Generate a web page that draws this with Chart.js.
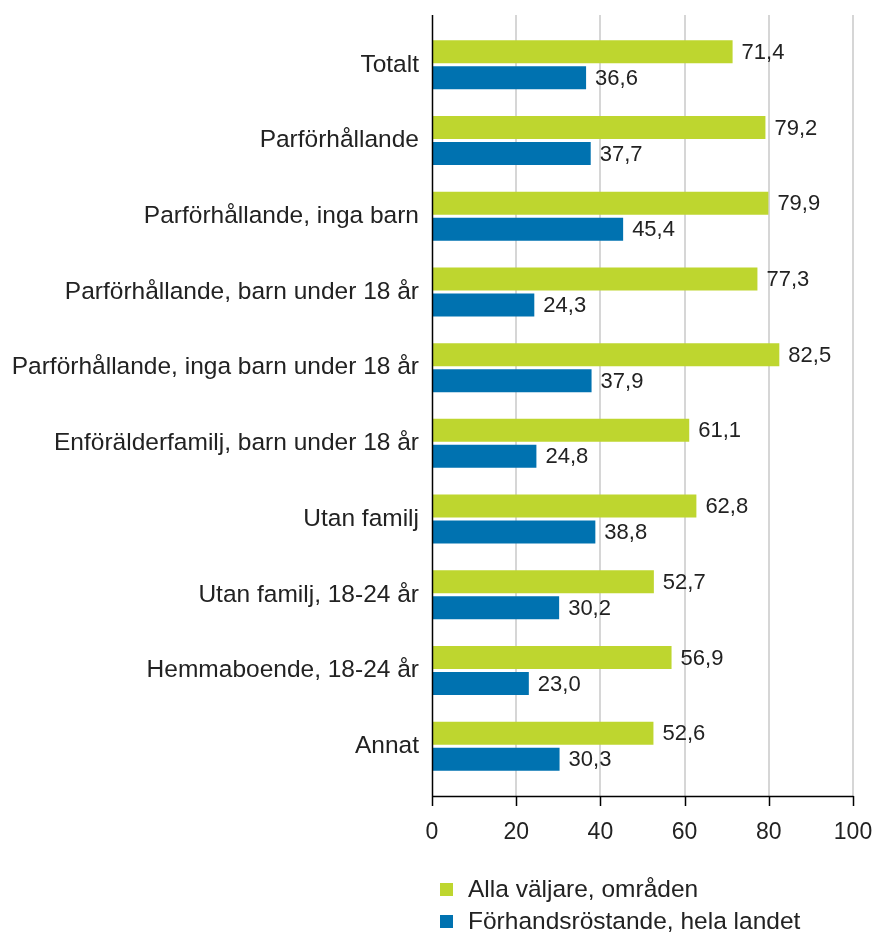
<!DOCTYPE html>
<html>
<head>
<meta charset="utf-8">
<script src="https://cdn.jsdelivr.net/npm/chart.js@4.4.1/dist/chart.umd.min.js"></script>
<style>
    body { margin: 0; background: #fff; }
    #wrap { position: relative; width: 874px; height: 932px; }
    .legend { position: absolute; left: 440px; top: 873px; font: 24.5px 'Liberation Sans', Arial, sans-serif; color: #222; }
    .legend-item { display: flex; align-items: center; height: 32px; }
    .legend-box { width: 13px; height: 13px; margin-right: 15px; }
</style>
</head>
<body>
<div id="wrap">
    <canvas id="chart" width="874" height="932"></canvas>
    <div class="legend" id="legend"></div>
</div>
<script>
const categories = [
    'Totalt',
    'Parförhållande',
    'Parförhållande, inga barn',
    'Parförhållande, barn under 18 år',
    'Parförhållande, inga barn under 18 år',
    'Enförälderfamilj, barn under 18 år',
    'Utan familj',
    'Utan familj, 18-24 år',
    'Hemmaboende, 18-24 år',
    'Annat'
];
const allaValjare = [71.4, 79.2, 79.9, 77.3, 82.5, 61.1, 62.8, 52.7, 56.9, 52.6];
const forhandsrostande = [36.6, 37.7, 45.4, 24.3, 37.9, 24.8, 38.8, 30.2, 23.0, 30.3];
const xTicks = [0, 20, 40, 60, 80, 100];
const seriesNames = ['Alla väljare, områden', 'Förhandsröstande, hela landet'];
const seriesColors = ['#BED62F', '#0072B0'];

const FONT = "'Liberation Sans', Arial, sans-serif";
const EXT = 12; // axis lines reach beyond the category band

// gridlines + axis lines, drawn from the x scale
const axisPlugin = {
    id: 'axisLines',
    beforeDatasetsDraw(chart) {
        const ctx = chart.ctx;
        const x = chart.scales.x;
        const top = chart.chartArea.top - EXT;
        const bottom = chart.chartArea.bottom + EXT;
        ctx.save();
        ctx.strokeStyle = '#d6d6d6';
        ctx.lineWidth = 2;
        xTicks.slice(1).forEach(v => {
            const px = Math.round(x.getPixelForValue(v));
            ctx.beginPath();
            ctx.moveTo(px, top);
            ctx.lineTo(px, bottom);
            ctx.stroke();
        });
        ctx.restore();
    },
    afterDatasetsDraw(chart) {
        const ctx = chart.ctx;
        const x = chart.scales.x;
        const top = chart.chartArea.top - EXT;
        const bottom = chart.chartArea.bottom + EXT;
        const x0 = Math.round(x.getPixelForValue(0)) + 0.5;
        ctx.save();
        ctx.strokeStyle = '#000';
        ctx.lineWidth = 1.5;
        ctx.beginPath();
        ctx.moveTo(x0, top);
        ctx.lineTo(x0, bottom);
        ctx.moveTo(x0, bottom + 0.5);
        ctx.lineTo(Math.round(x.getPixelForValue(100)) + 0.5, bottom + 0.5);
        xTicks.forEach(v => {
            const px = Math.round(x.getPixelForValue(v)) + 0.5;
            ctx.moveTo(px, bottom);
            ctx.lineTo(px, bottom + 10);
        });
        ctx.stroke();
        ctx.restore();
    }
};

// value labels after each bar
const valueLabels = {
    id: 'valueLabels',
    afterDatasetsDraw(chart) {
        const ctx = chart.ctx;
        ctx.save();
        ctx.font = '22px ' + FONT;
        ctx.fillStyle = '#222';
        ctx.textBaseline = 'middle';
        chart.data.datasets.forEach((ds, i) => {
            chart.getDatasetMeta(i).data.forEach((bar, j) => {
                const txt = ds.data[j].toFixed(1).replace('.', ',');
                ctx.fillText(txt, bar.x + 9, bar.y + 1);
            });
        });
        ctx.restore();
    }
};

new Chart(document.getElementById('chart'), {
    type: 'bar',
    data: {
        labels: categories,
        datasets: [
            { label: seriesNames[0], data: allaValjare, backgroundColor: seriesColors[0] },
            { label: seriesNames[1], data: forhandsrostande, backgroundColor: seriesColors[1] }
        ]
    },
    options: {
        indexAxis: 'y',
        responsive: false,
        animation: false,
        categoryPercentage: 0.687,
        barPercentage: 0.885,
        layout: { padding: { top: 27, right: 21, left: 0, bottom: 0 } },
        plugins: { legend: { display: false }, tooltip: { enabled: false } },
        scales: {
            x: {
                min: 0,
                max: 100,
                afterBuildTicks: s => { s.ticks = xTicks.map(v => ({ value: v })); },
                afterFit: s => { s.height = 148; s.paddingLeft = 0; s.paddingRight = 0; },
                grid: { display: false, drawTicks: false },
                border: { display: false },
                ticks: { color: '#222', font: { family: FONT, size: 23 }, padding: 35 }
            },
            y: {
                afterFit: s => { s.width = 432; s.paddingTop = 0; s.paddingBottom = 0; },
                grid: { display: false, drawTicks: false },
                border: { display: false },
                ticks: { color: '#222', font: { family: FONT, size: 24.5 }, padding: 13 }
            }
        }
    },
    plugins: [axisPlugin, valueLabels]
});

document.getElementById('legend').innerHTML = seriesNames.map((n, i) =>
    `<div class="legend-item"><span class="legend-box" style="background:${seriesColors[i]}"></span>${n}</div>`
).join('');
</script>
</body>
</html>
